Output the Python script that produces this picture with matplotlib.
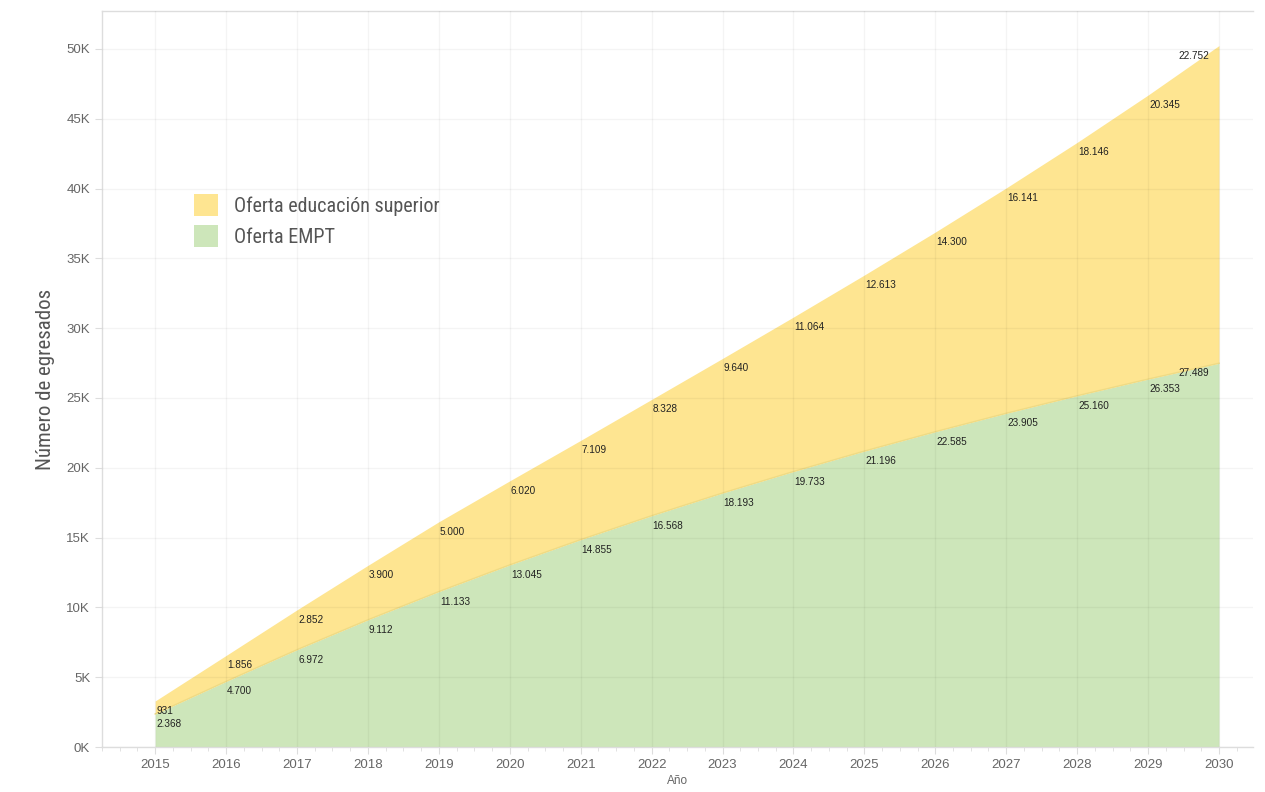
import matplotlib
matplotlib.use("Agg")
import matplotlib.pyplot as plt
from matplotlib.ticker import MultipleLocator, FuncFormatter
from matplotlib.patches import Patch
import numpy as np

years = list(range(2015, 2031))
empt = [2368, 4700, 6972, 9112, 11133, 13045, 14855, 16568, 18193, 19733,
        21196, 22585, 23905, 25160, 26353, 27489]
superior = [931, 1856, 2852, 3900, 5000, 6020, 7109, 8328, 9640, 11064,
            12613, 14300, 16141, 18146, 20345, 22752]
series_names = ["Oferta educación superior", "Oferta EMPT"]

yellow = "#FEE591"
green = "#CDE6BA"
cond = ["Liberation Sans Narrow", "Roboto Condensed", "Open Sans", "DejaVu Sans"]
plt.rcParams["font.family"] = ["Liberation Sans", "DejaVu Sans"]

fig = plt.figure(figsize=(12.65, 7.92), dpi=100)
ax = fig.add_axes([102/1265, 45/792, (1253-102)/1265, (747-11)/792])

x = np.array(years)
e = np.array(empt)
s = np.array(superior)
tot = e + s
ax.fill_between(x, 0, e, color=green, lw=0, zorder=1)
ax.fill_between(x, e, tot, color=yellow, lw=0, zorder=1)
ax.plot(x, e, color="#EFDB84", lw=1, zorder=2)

def fmt(v):
    return f"{v:,}".replace(",", ".")

for i, yr in enumerate(years):
    last = i == len(years) - 1
    ha = "right" if last else "left"
    dx = -10 if last else 1
    ax.annotate(fmt(superior[i]), (yr, tot[i]), xytext=(dx, -10), textcoords="offset pixels",
                ha=ha, va="center", fontsize=7.2, color="#222222", zorder=5)
    ax.annotate(fmt(empt[i]), (yr, e[i]), xytext=(dx, -10), textcoords="offset pixels",
                ha=ha, va="center", fontsize=7.2, color="#222222", zorder=5)

ax.set_xlim(2014.25, 2030.48)
ax.set_ylim(0, 52720)
ax.xaxis.set_major_locator(MultipleLocator(1))
ax.xaxis.set_minor_locator(MultipleLocator(0.25))
ax.yaxis.set_major_locator(MultipleLocator(5000))
ax.yaxis.set_major_formatter(FuncFormatter(lambda v, p: f"{int(v/1000)}K"))
ax.grid(True, which="major", color="#000000", alpha=0.045, lw=1, zorder=3)
ax.set_axisbelow(False)

ax.spines["right"].set_visible(False)
for sp in ["left", "bottom", "top"]:
    ax.spines[sp].set_color("#DDDDDD")
    ax.spines[sp].set_linewidth(1)

ax.tick_params(axis="both", which="major", colors="#DDDDDD", labelcolor="#666666",
               labelsize=9.5, length=5)
ax.tick_params(axis="x", which="minor", colors="#DDDDDD", length=3)
ax.tick_params(axis="y", which="minor", length=0)

ax.set_xlabel("Año", fontsize=8.5, color="#666666", labelpad=3)
ax.set_ylabel("Número de egresados", fontsize=15, color="#555555", family=cond, labelpad=8)

handles = [Patch(facecolor=yellow, edgecolor="none"), Patch(facecolor=green, edgecolor="none")]
leg = ax.legend(handles, series_names, loc="upper left",
                bbox_to_anchor=((194-102)/1151, (747-194)/736),
                frameon=False, borderpad=0, handlelength=1.2, handleheight=1.3,
                handletextpad=0.8, labelspacing=0.45, borderaxespad=0,
                prop={"family": cond, "size": 14.5})
for t in leg.get_texts():
    t.set_color("#555555")

fig.savefig("out.png", dpi=100)
